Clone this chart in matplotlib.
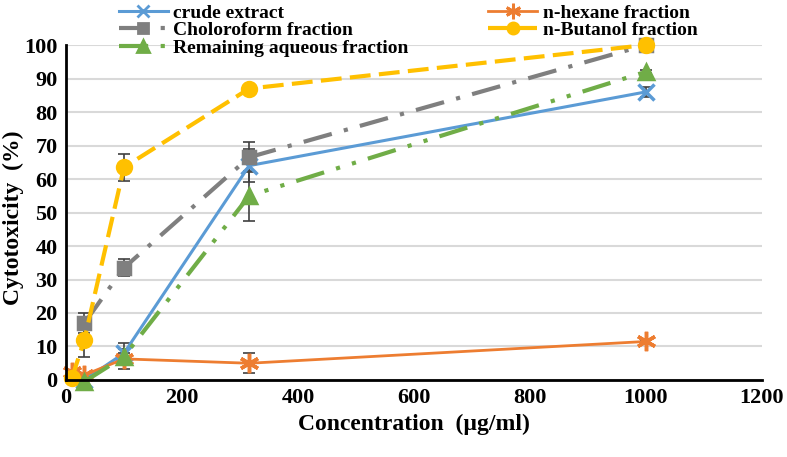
import matplotlib.pyplot as plt
from matplotlib.lines import Line2D

plt.rcParams["font.family"] = ["Liberation Serif", "DejaVu Serif"]
plt.rcParams["font.weight"] = "bold"

conc_full = [10, 31.6, 100, 316, 1000]
conc_part = [31.6, 100, 316, 1000]

crude = [0, 8, 64, 86]
crude_err = [0, 3, 5, 1.5]
hexane = [2.5, 1.5, 6.3, 5, 11.5]
hexane_err = [0, 0, 3, 3, 0.5]
chloro = [17, 33.5, 66.5, 100]
chloro_err = [3, 2.5, 4.5, 0.5]
butanol = [0.5, 12, 63.5, 87, 100]
butanol_err = [2.5, 5, 4, 0.5, 0.5]
aqueous = [-0.5, 7, 55, 92]
aqueous_err = [0, 1, 7.5, 0.5]

labels = ["crude extract", "n-hexane fraction", "Choloroform fraction",
          "n-Butanol fraction", "Remaining aqueous fraction"]

fig = plt.figure(figsize=(7.87, 4.57), dpi=100)
ax = fig.add_axes([0.0839, 0.1685, 0.968 - 0.0839, 0.9015 - 0.1685])

series = [
    (conc_part, crude, crude_err, "#5B9BD5", "x", "-", 2.2, 11),
    (conc_full, hexane, hexane_err, "#ED7D31", (6, 2, 0), "-", 2.0, 14),
    (conc_part, chloro, chloro_err, "#7F7F7F", "s", (0, (7, 3, 1, 3)), 3.0, 9),
    (conc_full, butanol, butanol_err, "#FFC000", "o", (0, (5, 2)), 3.0, 10),
    (conc_part, aqueous, aqueous_err, "#70AD47", "^", (0, (7, 3, 1, 3, 1, 3)), 3.0, 10),
]

handles = []
for (xs, vals, err, color, marker, ls, lw, ms), label in zip(series, labels):
    ax.errorbar(xs, vals, yerr=err, fmt="none", ecolor="#404040",
                elinewidth=1.2, capsize=4, capthick=1.2, zorder=2)
    ax.plot(xs, vals, color=color, linestyle=ls, linewidth=lw,
            marker=marker, markersize=ms, markeredgewidth=2.5,
            markerfacecolor=color, markeredgecolor=color, zorder=3,
            clip_on=False)
    handles.append(Line2D([], [], color=color, linestyle=ls, linewidth=lw,
                          marker=marker, markersize=ms * 0.8,
                          markeredgewidth=2, markerfacecolor=color,
                          markeredgecolor=color))

ax.set_xlim(0, 1200)
ax.set_ylim(0, 100)
ax.set_xticks(range(0, 1201, 200))
ax.set_yticks(range(0, 101, 10))
ax.grid(axis="y", color="#D9D9D9", linewidth=1.5)
ax.set_axisbelow(True)
for side in ["top", "right"]:
    ax.spines[side].set_visible(False)
ax.spines["left"].set_linewidth(2)
ax.spines["bottom"].set_linewidth(2)
ax.spines["left"].set_zorder(4)
ax.spines["bottom"].set_zorder(4)
ax.tick_params(length=0, labelsize=16, pad=6)
for lab in ax.get_xticklabels() + ax.get_yticklabels():
    lab.set_fontweight("bold")

ax.set_xlabel("Concentration  (\u00b5g/ml)", fontsize=17, fontweight="bold",
              labelpad=4)
fig.text(13 / 787, 1 - 218 / 457, "Cytotoxicity  (%)", rotation=90,
         fontsize=17, fontweight="bold", ha="center", va="center")

order = [0, 2, 4, 1, 3]
leg = fig.legend([handles[i] for i in order], [labels[i] for i in order],
                 loc="upper left", bbox_to_anchor=(117 / 787, 1 - 2 / 457),
                 ncol=2, frameon=False, fontsize=14, handlelength=2.5,
                 handletextpad=0.3, labelspacing=0.0, columnspacing=4.1,
                 borderpad=0.1, borderaxespad=0)
for t in leg.get_texts():
    t.set_fontweight("bold")

fig.savefig("out.png", dpi=100)
